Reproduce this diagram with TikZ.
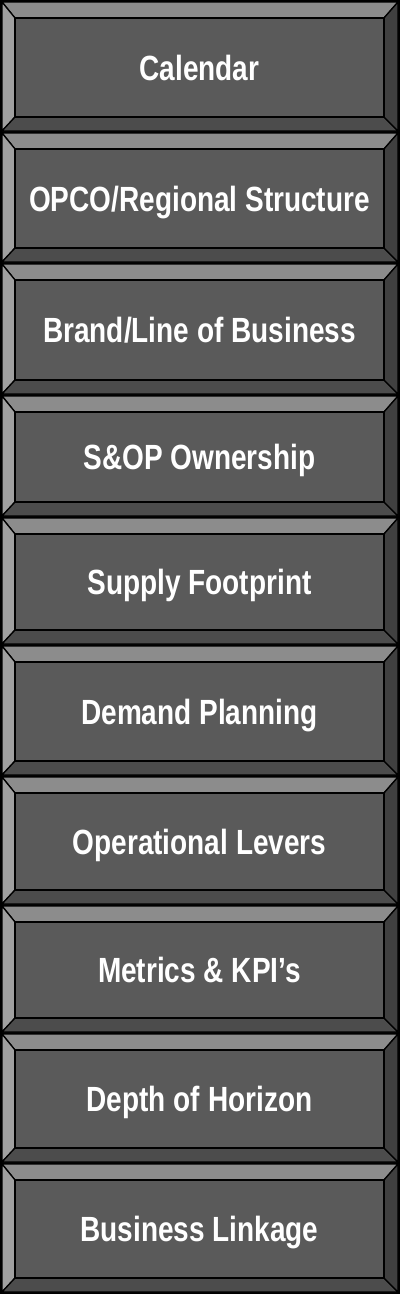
\documentclass[tikz,border=0pt]{standalone}
\usepackage{fontspec}
\newfontfamily\labfont[FakeStretch=0.80]{Liberation Sans Bold}
\definecolor{facec}{HTML}{5A5A5A}
\definecolor{topc}{HTML}{8C8C8C}
\definecolor{leftc}{HTML}{A0A0A0}
\definecolor{botc}{HTML}{4C4C4C}
\definecolor{rightc}{HTML}{404040}
\tikzset{
  bev/.style={draw=black, line width=1.3bp, line join=miter},
  facebox/.style={fill=facec, draw=black, line width=1.6bp, inner sep=0pt, outer sep=0pt},
  labeltext/.style={text=white, font=\labfont\fontsize{35bp}{40bp}\selectfont,
    inner sep=0pt, text height=25bp, text depth=0bp, anchor=center}
}
\begin{document}
\begin{tikzpicture}[x=1bp,y=-1bp]
\useasboundingbox (0,0) rectangle (400,1294);
\fill[black] (0,0) rectangle (400,1294);
\foreach \t/\b/\lab [count=\i] in {
  2/131/{Calendar},
  133/262/{OPCO/Regional Structure},
  264/394/{Brand/Line of Business},
  396/516/{S\&OP Ownership},
  518/644/{Supply Footprint},
  646/775/{Demand Planning},
  777/904/{Operational Levers},
  906/1032/{Metrics \& KPI’s},
  1034/1162/{Depth of Horizon},
  1164/1292/{Business Linkage}} {
  \pgfmathsetmacro{\yt}{\t+16}
  \pgfmathsetmacro{\yb}{\b-14}
  \pgfmathsetmacro{\hh}{\yb-\yt}
  \fill[topc,bev] (2,\t) -- (398,\t) -- (384,\yt) -- (15,\yt) -- cycle;
  \fill[leftc,bev] (2,\t) -- (15,\yt) -- (15,\yb) -- (2,\b) -- cycle;
  \fill[botc,bev] (2,\b) -- (15,\yb) -- (384,\yb) -- (398,\b) -- cycle;
  \fill[rightc,bev] (398,\t) -- (398,\b) -- (384,\yb) -- (384,\yt) -- cycle;
  \coordinate (c\i) at (199.5,{(\yt+\yb)/2});
  \node[facebox, minimum width=369bp, minimum height=\hh bp] (face\i) at (c\i) {};
  \node[labeltext] (lab\i) at (face\i.center) {\lab};
}
\end{tikzpicture}
\end{document}
